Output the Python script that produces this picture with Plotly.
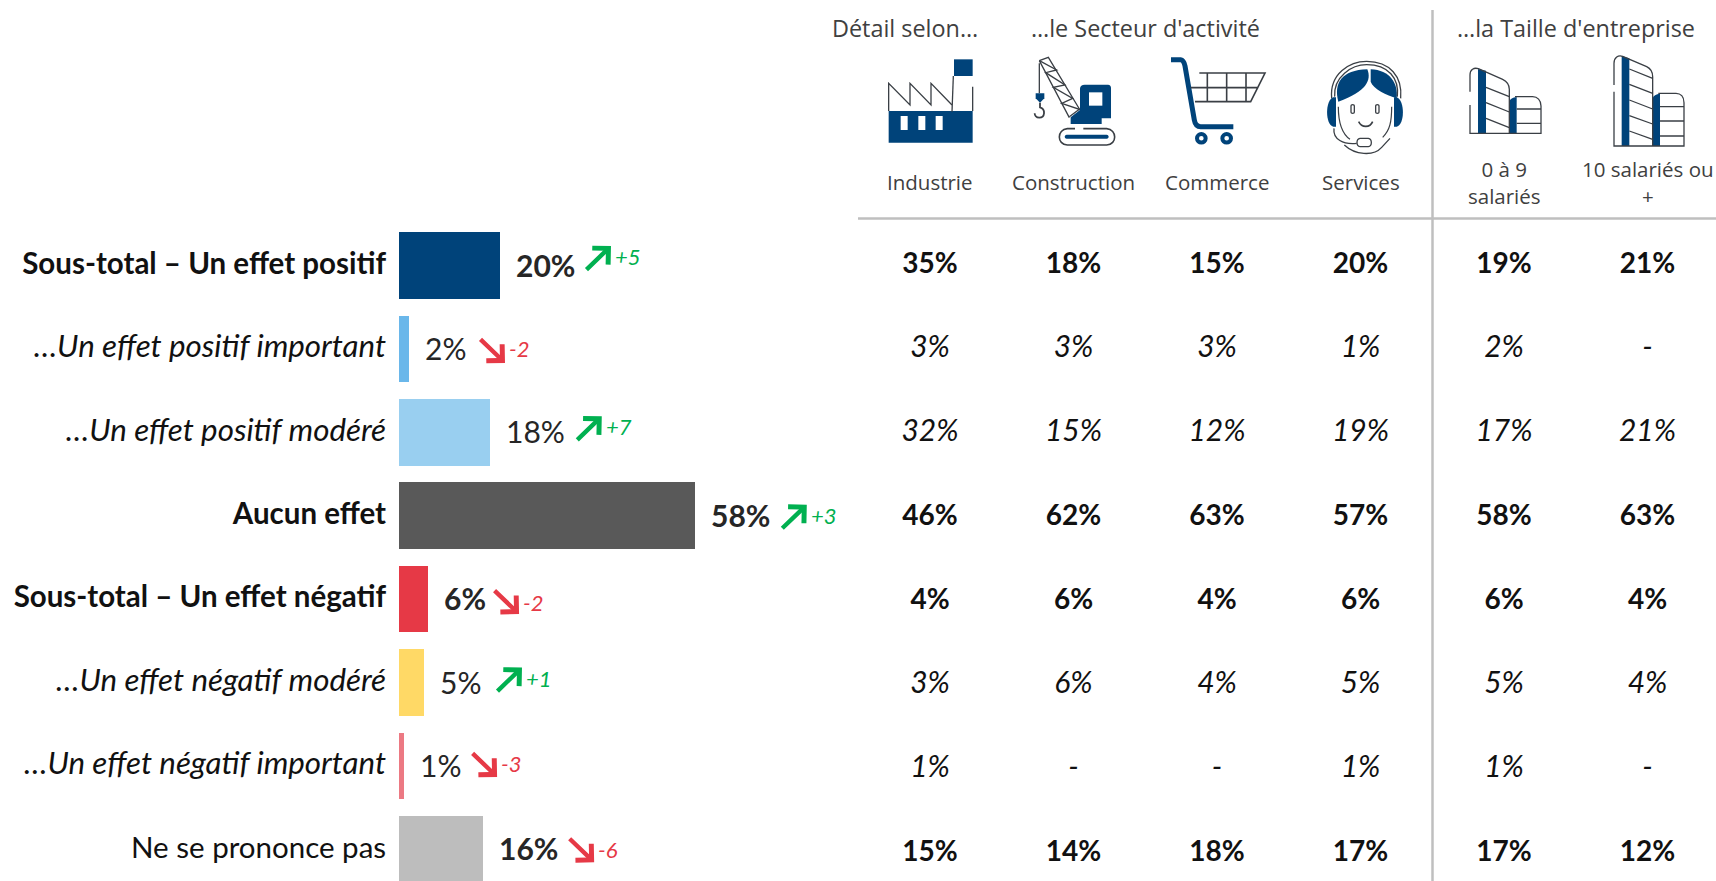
import plotly.graph_objects as go

W, H = 1716, 881

# ---------- data ----------
rows = ["Sous-total – Un effet positif", "…Un effet positif important",
        "…Un effet positif modéré", "Aucun effet",
        "Sous-total – Un effet négatif", "…Un effet négatif modéré",
        "…Un effet négatif important", "Ne se prononce pas"]
values = [19.8, 1.96, 17.8, 58.0, 5.7, 4.9, 1.0, 16.5]
value_labels = ["20%", "2%", "18%", "58%", "6%", "5%", "1%", "16%"]
deltas = ["+5", "-2", "+7", "+3", "-2", "+1", "-3", "-6"]
columns = ["Industrie", "Construction", "Commerce", "Services", "0 à 9<br>salariés", "10 salariés ou<br>+"]
industrie = ["35%", "3%", "32%", "46%", "4%", "3%", "1%", "15%"]
construction = ["18%", "3%", "15%", "62%", "6%", "6%", "-", "14%"]
commerce = ["15%", "3%", "12%", "63%", "4%", "4%", "-", "18%"]
services = ["20%", "1%", "19%", "57%", "6%", "5%", "1%", "17%"]
taille_0_9 = ["19%", "2%", "17%", "58%", "6%", "5%", "1%", "17%"]
taille_10 = ["21%", "-", "21%", "63%", "4%", "4%", "-", "12%"]
table = [industrie, construction, commerce, services, taille_0_9, taille_10]

# ---------- styling ----------
colors = ["#00437A", "#6AB7EA", "#99CFF0", "#595959", "#E63946", "#FFD966", "#EC7983", "#BDBDBD"]
strong_value = [True, False, False, True, True, False, False, True]
label_style = ["b", "i", "i", "b", "b", "i", "i", ""]
arrow_dx = [111, 96, 112, 112, 91, 98, 93, 111]   # tip offset from bar end, px
arrow_dy = [-19.5, 14, -16, -11, 15, -15, 11, 13] # tip offset from row centre, px
delta_dy = [-9, 0, -6, 0, 3, -4, -2.5, 0]
FONT = "Lato"
HEAD = "Open Sans"
NAVY = "#00437A"
INK = "#404040"
GREEN = "#00B050"
RED = "#E63946"
RULE = "#BFBFBF"

px_per_unit = 5.1
bar_left, bar_right, top = 399, 850, 219
row_pitch, row0 = 83.4, 265.5
table_pitch = 84
col0, col_pitch = 930, 143.5
table_left = col0 - col_pitch / 2

def styled(name, st):
    if st == "b":
        return f"<b>{name}</b>"
    if st == "i":
        return f'<span style="font-size:31.3px"><i>{name}</i></span>'
    return name

tick_text = [styled(n, s) for n, s in zip(rows, label_style)]

fig = go.Figure()
fig.add_trace(go.Bar(x=values, y=rows, orientation="h", marker=dict(color=colors, line_width=0),
                     width=0.797, hoverinfo="skip", showlegend=False))

for col, cells in zip(columns, table):
    texts = [f"<b>{c}</b>" if s else f'<span style="font-size:30px"><i>{c}</i></span>'
             for c, s in zip(cells, strong_value)]
    fig.add_trace(go.Scatter(x=[col] * len(rows), y=rows, mode="text", text=texts, xaxis="x2", yaxis="y2",
                             textposition="middle center", cliponaxis=False, showlegend=False,
                             textfont=dict(family=FONT, size=28, color="#111111"), hoverinfo="skip"))

ann = []
for i, r in enumerate(rows):
    v = values[i]
    lab = value_labels[i]
    ann.append(dict(x=v, y=r, xref="x", yref="y", xanchor="left", yanchor="middle", xshift=14, yshift=1,
                    text=f"<b>{lab}</b>" if strong_value[i] else lab, showarrow=False,
                    font=dict(family=FONT, size=30, color="#262626")))
    up = deltas[i].startswith("+")
    col = GREEN if up else RED
    ann.append(dict(x=v, y=r, xref="x", yref="y", xshift=arrow_dx[i], yshift=-arrow_dy[i],
                    ax=-26, ay=25 if up else -25, axref="pixel", ayref="pixel", showarrow=True,
                    arrowhead=4, arrowsize=1.0, arrowwidth=4.4, arrowcolor=col, standoff=0, text=""))
    ann.append(dict(x=v, y=r, xref="x", yref="y", xanchor="left", yanchor="middle",
                    xshift=arrow_dx[i] + 2, yshift=-delta_dy[i], showarrow=False,
                    text=f"<i>{deltas[i]}</i>", font=dict(family=FONT, size=22, color=col)))

for name in columns:
    ann.append(dict(x=name, y=1 - 182.5 / H, xref="x2", yref="paper", xanchor="center", yanchor="middle",
                    text=name, showarrow=False, font=dict(family=HEAD, size=20.5, color=INK)))
for txt, cx in [("Détail selon…", 905), ("…le Secteur d'activité", 1145), ("…la Taille d'entreprise", 1576)]:
    ann.append(dict(x=cx / W, y=1 - 28 / H, xref="paper", yref="paper", xanchor="center", yanchor="middle",
                    text=txt, showarrow=False, font=dict(family=HEAD, size=23.4, color=INK)))

# ---------- icons: paths in a 3x local grid ----------
def tr(path, ox, oy):
    out, xy = [], 0
    for t in path.split():
        if t.isalpha():
            out.append(t)
            xy = 0
        else:
            v = float(t)
            if xy == 0:
                out.append(f"{(ox + v / 3) / W:.5f},")
            else:
                out[-1] += f"{1 - (oy + v / 3) / H:.5f}"
            xy = 1 - xy
    return " ".join(out)

shapes = []
def fill(path, ox, oy, color=NAVY):
    shapes.append(dict(type="path", xref="paper", yref="paper", path=tr(path, ox, oy),
                       fillcolor=color, line=dict(width=0), layer="above"))
def stroke(path, ox, oy, color="#3A3F45", width=1.3):
    shapes.append(dict(type="path", xref="paper", yref="paper", path=tr(path, ox, oy),
                       line=dict(color=color, width=width), layer="above"))

# factory
o = (880, 50)
fill("M 222 28 L 278 28 L 278 78 L 222 78 Z", *o)
fill("M 26 183 L 278 183 L 278 278 L 26 278 Z", *o)
for a in (62, 115, 167):
    fill(f"M {a} 198 L {a+21} 198 L {a+21} 240 L {a} 240 Z", *o, color="#FFFFFF")
stroke("M 26 183 L 26 100 L 90 165 L 90 100 L 153 165 L 153 100 L 216 165", *o)
stroke("M 220 78 L 216 185", *o)
stroke("M 278 110 L 278 183", *o)
# crane
stroke("M 478 32 L 505 22 L 600 180 M 478 32 L 568 203", *o)
stroke("M 478 32 L 530 60 L 497 68 L 555 105 L 520 112 L 578 145 L 545 160 L 598 178 L 568 200", *o)
stroke("M 478 40 L 478 130", *o)
fill("M 467 130 L 493 130 L 493 145 L 480 158 L 467 145 Z", *o)
stroke("M 480 158 L 480 172 C 498 178 495 203 478 203 C 468 203 464 195 464 190", *o, width=1.8)
fill("M 600 116 C 600 108 606 104 614 104 L 684 104 C 690 104 693 108 693 114 L 693 205 L 665 205 "
     "L 665 222 L 572 222 L 572 202 L 600 180 Z", *o)
fill("M 627 127 L 667 127 L 667 167 L 627 167 Z", *o, color="#FFFFFF")
stroke("M 610 236 L 680 236 C 712 238 712 284 680 285 L 562 285 C 530 284 530 238 562 236 L 585 236", *o, width=1.6)
fill("M 560 254 L 680 254 C 688 256 688 264 680 266 L 560 266 C 552 264 552 256 560 254 Z", *o)

# cart and headset
o = (1160, 50)
stroke("M 33 29 L 62 29 C 70 30 73 38 75 48 L 103 210 C 105 222 110 230 122 230 L 220 230", *o, color=NAVY, width=5)
stroke("M 118 69 L 315 69 L 272 155 L 105 155 M 92 113 L 295 113 M 142 69 L 142 155 "
       "M 200 69 L 200 155 M 258 69 L 258 155", *o, width=1.6)
for cx in (124, 200):
    stroke(f"M {cx-13} 265 C {cx-13} 248 {cx+13} 248 {cx+13} 265 C {cx+13} 282 {cx-13} 282 {cx-13} 265 Z",
           *o, color=NAVY, width=4)
fill("M 535 155 C 520 100 545 60 622 58 C 635 90 620 125 535 155 Z", *o)
fill("M 632 58 C 690 60 715 100 710 145 C 680 135 640 118 632 95 Z", *o)
stroke("M 515 145 C 508 70 570 34 620 34 C 690 34 728 80 722 145", *o, width=1.3)
stroke("M 524 140 C 520 80 575 44 620 44 C 685 44 718 85 712 140", *o, width=1.3)
fill("M 520 142 C 495 150 495 225 520 230 L 528 230 L 528 142 Z", *o)
fill("M 710 142 C 735 150 735 225 710 230 L 702 230 L 702 142 Z", *o)
stroke("M 535 170 C 535 215 545 250 570 268 M 695 170 C 695 215 690 240 668 262", *o, width=1.2)
stroke("M 573 167 C 573 163 583 163 583 167 L 583 187 C 583 191 573 191 573 187 Z", *o, width=1.3)
stroke("M 647 167 C 647 163 657 163 657 167 L 657 187 C 657 191 647 191 647 187 Z", *o, width=1.3)
stroke("M 596 215 C 605 234 630 234 638 215", *o, width=1.6)
stroke("M 600 265 L 625 265 C 637 267 637 288 625 290 L 600 290 C 588 288 588 267 600 265 Z", *o, width=1.3)
stroke("M 522 235 C 518 268 550 284 590 280", *o, width=1.3)
stroke("M 553 285 C 585 315 640 320 665 292 L 690 265", *o, width=1.3)

# buildings
o = (1460, 50)
fill("M 54 57 L 78 62 L 78 250 L 54 250 Z", *o)
fill("M 148 155 C 150 147 158 142 170 141 L 170 250 L 148 250 Z", *o)
stroke("M 30 125 L 30 75 C 30 58 42 52 55 56 L 128 88 C 142 95 148 105 148 118 L 148 250", *o)
stroke("M 30 165 L 30 250 L 243 250 L 243 168 C 243 150 232 140 218 140 L 165 140", *o)
stroke("M 78 112 L 148 140 M 78 158 L 148 186 M 78 205 L 148 233 M 170 177 L 243 177 M 170 220 L 243 220", *o)
fill("M 485 18 L 508 25 L 508 288 L 485 288 Z", *o)
fill("M 578 145 C 580 137 588 132 600 131 L 600 288 L 578 288 Z", *o)
stroke("M 462 105 L 462 40 C 462 22 475 14 488 19 L 560 50 C 572 56 578 68 578 80 L 578 288", *o)
stroke("M 462 125 L 462 288 L 672 288 L 672 158 C 672 140 662 130 648 130 L 595 130", *o)
stroke("M 508 57 L 578 85 M 508 103 L 578 130 M 508 150 L 578 177 M 508 197 L 578 222 M 508 243 L 578 268 "
       "M 600 170 L 672 170 M 600 213 L 672 213 M 600 258 L 672 258", *o)

# rules
shapes.append(dict(type="line", xref="paper", yref="paper", x0=858 / W, x1=1, y0=1 - 218.5 / H, y1=1 - 218.5 / H,
                   line=dict(color=RULE, width=2.5)))
shapes.append(dict(type="line", xref="paper", yref="paper", x0=1432.5 / W, x1=1432.5 / W, y0=0, y1=1 - 10 / H,
                   line=dict(color=RULE, width=2.5)))

fig.update_layout(
    width=W, height=H, margin=dict(l=0, r=0, t=0, b=0), autosize=False,
    paper_bgcolor="#FFFFFF", plot_bgcolor="#FFFFFF", showlegend=False,
    annotations=ann, shapes=shapes, bargap=0,
    xaxis=dict(domain=[bar_left / W, bar_right / W], range=[0, (bar_right - bar_left) / px_per_unit],
               visible=False, fixedrange=True),
    xaxis2=dict(domain=[table_left / W, 1], anchor="y2", type="category", categoryorder="array",
                categoryarray=columns, range=[-0.5, (W - table_left) / col_pitch - 0.5],
                visible=False, fixedrange=True),
    yaxis=dict(domain=[0, 1 - top / H], type="category", categoryorder="array", categoryarray=rows,
               tickmode="array", tickvals=rows, ticktext=tick_text,
               range=[(H - row0) / row_pitch, (top - row0) / row_pitch], showgrid=False, zeroline=False,
               showline=False, ticks="outside", ticklen=6, tickcolor="rgba(0,0,0,0)", fixedrange=True,
               ticklabelshift=2, tickfont=dict(family=FONT, size=29.5, color="#111111")),
    yaxis2=dict(domain=[0, 1 - top / H], anchor="x2", type="category", categoryorder="array", categoryarray=rows,
                range=[(H - row0) / table_pitch, (top - row0) / table_pitch], visible=False, fixedrange=True),
)
fig.write_html("out.html", config=dict(displayModeBar=False),
               post_script="document.body.style.margin='0';document.body.style.overflow='hidden';")
